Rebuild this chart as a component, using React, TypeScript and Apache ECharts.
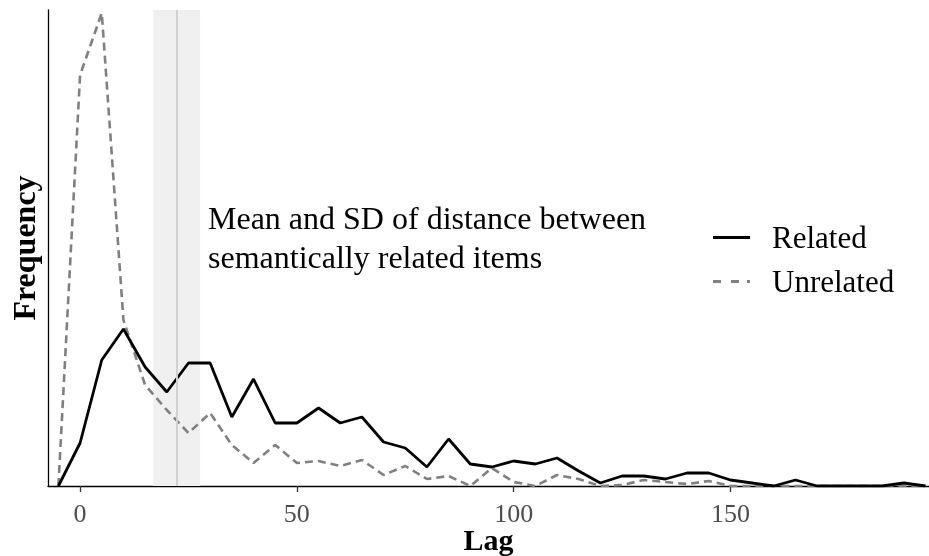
import React, { useEffect, useRef } from "react";
import * as echarts from "echarts";

const LAGS = [
  -5, 0, 5, 10, 15, 20, 25, 30, 35, 40, 45, 50, 55, 60, 65, 70, 75, 80, 85, 90,
  95, 100, 105, 110, 115, 120, 125, 130, 135, 140, 145, 150, 155, 160, 165, 170,
  175, 180, 185, 190, 195,
];
const RELATED = [
  0, 43, 126, 157, 119, 94, 123, 123, 69, 107, 63, 63, 78, 63, 69, 44, 38, 19, 47,
  22, 19, 25, 22, 28, 15, 3, 10, 10, 7, 13, 13, 6, 3, 0, 6, 0, 0, 0, 0, 3, 0,
];
const UNRELATED = [
  0, 411, 473, 166, 101, 76, 53, 73, 41, 23, 41, 23, 25, 20, 26, 11, 20, 7, 10, 0,
  18, 4, 0, 11, 7, 0, 1, 6, 4, 2, 5, 0, 0, 0, 0, 0, 0, 0, 0, 0, 0,
];
const X_TICKS = [0, 50, 100, 150];
const MEAN_LAG = 22.3;
const SD_LAG = 5.4;
const ANNOTATION = ["Mean and SD of distance between", "semantically related items"];
const SERIES_NAMES = ["Related", "Unrelated"];

const FONT = '"Liberation Serif", "Times New Roman", serif';
const SOLID_ICON = "path://M0,0H37V3H0Z";
const DASH_ICON = "path://M0,0H8V3H0Z M18,0H26V3H18Z M34,0H37V3H34Z";

export default function App() {
  const ref = useRef<HTMLDivElement>(null);
  useEffect(() => {
    const chart = echarts.init(ref.current!, null, { renderer: "svg" });
    chart.setOption({
      animation: false,
      textStyle: { fontFamily: FONT },
      grid: { left: 48, right: 0, top: 10, bottom: 70, containLabel: false, outerBoundsMode: "none" },
      xAxis: {
        type: "value",
        min: -7.4,
        max: 195.8,
        name: "Lag",
        nameLocation: "middle",
        nameGap: 39,
        nameMoveOverlap: false,
        nameTextStyle: { fontFamily: FONT, fontSize: 30, fontWeight: "bold", color: "#000", lineHeight: 28 },
        axisLine: { show: true, onZero: false, lineStyle: { color: "#000", width: 1.3 } },
        axisTick: { show: true, customValues: X_TICKS, length: 6, lineStyle: { color: "#333", width: 1.3 } },
        axisLabel: { customValues: X_TICKS, fontSize: 26, lineHeight: 22, color: "#4d4d4d", margin: 16, fontFamily: FONT },
        splitLine: { show: false },
      },
      yAxis: {
        type: "value",
        min: 0,
        max: 476,
        name: "Frequency",
        nameLocation: "middle",
        nameGap: 8,
        nameMoveOverlap: false,
        nameRotate: 90,
        nameTextStyle: { fontFamily: FONT, fontSize: 32, fontWeight: "bold", color: "#000" },
        axisLine: { show: true, onZero: false, lineStyle: { color: "#000", width: 1.3 } },
        axisTick: { show: false },
        axisLabel: { show: false },
        splitLine: { show: false },
      },
      legend: {
        data: [
          { name: SERIES_NAMES[0], icon: SOLID_ICON, itemStyle: { color: "#000" } },
          { name: SERIES_NAMES[1], icon: DASH_ICON, itemStyle: { color: "#808080" } },
        ],
        orient: "vertical",
        left: 713,
        top: 222,
        padding: 0,
        itemWidth: 37,
        itemHeight: 3,
        itemGap: 13,
        selectedMode: false,
        textStyle: { fontFamily: FONT, fontSize: 31, color: "#000", padding: [0, 0, 0, 17], lineHeight: 31 },
      },
      graphic: [
        {
          type: "text",
          left: 208,
          top: 198,
          silent: true,
          style: { text: ANNOTATION.join("\n"), font: `32px ${FONT}`, fill: "#000", lineHeight: 39 },
        },
      ],
      series: [
        {
          name: "band",
          type: "line",
          data: [],
          z: 1,
          silent: true,
          markArea: {
            silent: true,
            itemStyle: { color: "#f0f0f0" },
            data: [[{ xAxis: MEAN_LAG - SD_LAG }, { xAxis: MEAN_LAG + SD_LAG }]],
          },
          markLine: {
            silent: true,
            symbol: "none",
            label: { show: false },
            lineStyle: { color: "#d0d0d0", width: 2, type: "solid" },
            data: [{ xAxis: MEAN_LAG }],
          },
        },
        {
          name: "Unrelated",
          type: "line",
          data: LAGS.map((l, i) => [l, UNRELATED[i]]),
          symbol: "none",
          showSymbol: false,
          z: 2,
          itemStyle: { color: "#808080" },
          lineStyle: { color: "#808080", width: 2.6, type: [8, 5] },
        },
        {
          name: "Related",
          type: "line",
          data: LAGS.map((l, i) => [l, RELATED[i]]),
          symbol: "none",
          showSymbol: false,
          z: 3,
          itemStyle: { color: "#000" },
          lineStyle: { color: "#000", width: 2.8 },
        },
      ],
    });
    return () => chart.dispose();
  }, []);
  return <div ref={ref} style={{ position: "fixed", left: 0, top: 0, width: 929, height: 556 }} />;
}
